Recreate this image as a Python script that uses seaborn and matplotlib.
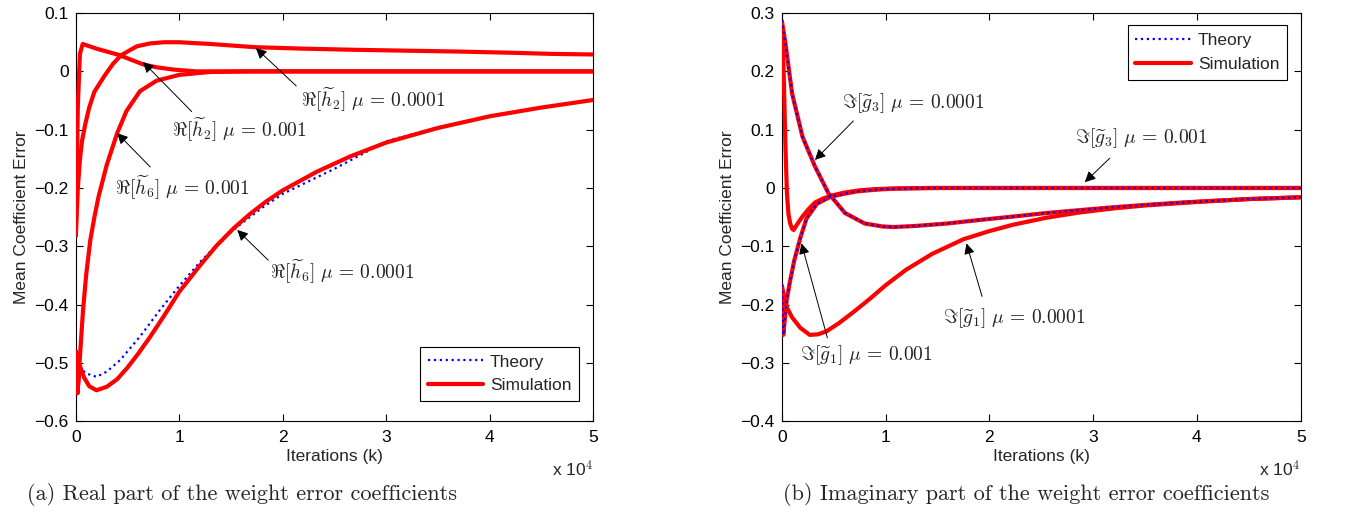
import matplotlib
matplotlib.use("Agg")
import matplotlib.pyplot as plt
from matplotlib.lines import Line2D
import seaborn as sns

# ---------------- data (x in units of 10^4 iterations) ----------------
# Left panel: real part
h2_fast_x = [0, 0.01, 0.02, 0.04, 0.067, 0.1, 0.2, 0.3, 0.42, 0.52, 0.65, 0.78, 0.95, 1.16, 1.4, 1.8, 2.5, 3.5, 5.0]
h2_fast_y = [-0.284, -0.17, -0.06, 0.03, 0.047, 0.045, 0.039, 0.034, 0.028, 0.021, 0.012, 0.007, 0.003, 0.0, 0.0, 0.0, 0.0, 0.0, 0.0]

h2_slow_x = [0, 0.02, 0.04, 0.06, 0.09, 0.13, 0.18, 0.28, 0.36, 0.44, 0.59, 0.72, 0.855, 1.0, 1.3, 1.73, 2.2, 2.7, 3.2, 3.7, 4.2, 4.6, 5.0]
h2_slow_y = [-0.284, -0.2, -0.152, -0.12, -0.092, -0.062, -0.035, -0.007, 0.013, 0.028, 0.043, 0.048, 0.050, 0.050, 0.047, 0.0415, 0.039, 0.037, 0.0355, 0.034, 0.032, 0.030, 0.029]

h6_fast_x = [0, 0.016, 0.04, 0.07, 0.1, 0.14, 0.18, 0.22, 0.3, 0.4, 0.49, 0.62, 0.78, 1.0, 1.3, 1.7, 2.5, 3.5, 5.0]
h6_fast_y = [-0.478, -0.552, -0.49, -0.41, -0.35, -0.29, -0.25, -0.215, -0.16, -0.106, -0.068, -0.034, -0.016, -0.006, -0.001, 0.0, 0.0, 0.0, 0.0]

h6_slow_x = [0, 0.016, 0.04, 0.08, 0.13, 0.2, 0.3, 0.4, 0.5, 0.6, 0.72, 0.85, 1.0, 1.2, 1.36, 1.52, 1.68, 1.84, 2.0, 2.33, 2.65, 3.0, 3.5, 4.0, 4.5, 5.0]
h6_slow_y = [-0.478, -0.552, -0.505, -0.525, -0.54, -0.547, -0.541, -0.528, -0.508, -0.485, -0.455, -0.42, -0.378, -0.333, -0.299, -0.27, -0.245, -0.223, -0.204, -0.172, -0.146, -0.122, -0.097, -0.077, -0.062, -0.049]

h6_slow_th_x = [0, 0.02, 0.05, 0.1, 0.2, 0.3, 0.43, 0.62, 0.81, 1.0, 1.2, 1.4, 1.6, 1.8, 2.0, 2.5, 3.0, 3.5, 4.0, 4.5, 5.0]
h6_slow_th_y = [-0.487, -0.5, -0.51, -0.518, -0.524, -0.515, -0.495, -0.455, -0.41, -0.368, -0.327, -0.291, -0.261, -0.234, -0.21, -0.167, -0.12, -0.096, -0.077, -0.062, -0.049]

# Right panel: imaginary part
g3_fast_x = [0, 0.01, 0.02, 0.035, 0.05, 0.065, 0.083, 0.1, 0.115, 0.15, 0.2, 0.26, 0.32, 0.4, 0.48, 0.6, 0.75, 0.9, 1.05, 1.4, 2.0, 3.0, 4.0, 5.0]
g3_fast_y = [0.288, 0.24, 0.19, 0.077, -0.009, -0.045, -0.062, -0.07, -0.072, -0.062, -0.049, -0.036, -0.025, -0.018, -0.013, -0.008, -0.004, -0.002, -0.001, 0.0, 0.0, 0.0, 0.0, 0.0]

g3_slow_x = [0, 0.035, 0.1, 0.2, 0.32, 0.45, 0.61, 0.8, 0.97, 1.08, 1.3, 1.59, 1.9, 2.23, 2.55, 2.87, 3.2, 3.51, 3.85, 4.16, 4.5, 5.0]
g3_slow_y = [0.288, 0.249, 0.162, 0.088, 0.037, -0.009, -0.043, -0.061, -0.066, -0.067, -0.065, -0.061, -0.055, -0.049, -0.043, -0.038, -0.033, -0.029, -0.025, -0.022, -0.019, -0.016]

g1_fast_x = [0, 0.015, 0.03, 0.048, 0.08, 0.12, 0.18, 0.24, 0.34, 0.47, 0.6, 0.72, 0.9, 1.1, 1.5, 2.0, 3.0, 4.0, 5.0]
g1_fast_y = [-0.166, -0.252, -0.225, -0.192, -0.16, -0.125, -0.085, -0.052, -0.027, -0.015, -0.01, -0.006, -0.003, -0.001, 0.0, 0.0, 0.0, 0.0, 0.0]

g1_slow_x = [0, 0.02, 0.05, 0.1, 0.18, 0.27, 0.35, 0.43, 0.55, 0.69, 0.85, 1.0, 1.2, 1.45, 1.75, 2.0, 2.23, 2.55, 2.87, 3.2, 3.5, 4.0, 4.5, 5.0]
g1_slow_y = [-0.166, -0.185, -0.205, -0.222, -0.24, -0.252, -0.251, -0.246, -0.232, -0.213, -0.19, -0.167, -0.14, -0.113, -0.088, -0.074, -0.063, -0.051, -0.042, -0.035, -0.03, -0.024, -0.019, -0.016]

x_ticks = [0, 1, 2, 3, 4, 5]
x_tick_labels = ["0", "1", "2", "3", "4", "5"]
left_y_ticks = [0.1, 0.0, -0.1, -0.2, -0.3, -0.4, -0.5, -0.6]
left_y_labels = ["0.1", "0", "\u22120.1", "\u22120.2", "\u22120.3", "\u22120.4", "\u22120.5", "\u22120.6"]
right_y_ticks = [0.3, 0.2, 0.1, 0.0, -0.1, -0.2, -0.3, -0.4]
right_y_labels = ["0.3", "0.2", "0.1", "0", "\u22120.1", "\u22120.2", "\u22120.3", "\u22120.4"]

# ---------------- style ----------------
sns.set_style("ticks")
plt.rcParams["font.family"] = ["Liberation Sans", "DejaVu Sans"]
plt.rcParams["mathtext.fontset"] = "cm"

RED = "#ff0000"
BLUE = "#0000ff"
SIM_LW = 3.0
TH_LW = 1.6

fig = plt.figure(figsize=(13.7, 5.13), dpi=100)
axL = fig.add_axes([0.0553, 0.179, 0.3778, 0.7955])
axR = fig.add_axes([0.5706, 0.179, 0.3788, 0.7955])


def sim(ax, x, y, z=3):
    sns.lineplot(x=x, y=y, ax=ax, color=RED, lw=SIM_LW, sort=False,
                 estimator=None, zorder=z, solid_capstyle="butt",
                 solid_joinstyle="round")


def theory(ax, x, y, z=2):
    sns.lineplot(x=x, y=y, ax=ax, color=BLUE, lw=TH_LW, linestyle=":",
                 sort=False, estimator=None, zorder=z)


# left
theory(axL, h2_fast_x, h2_fast_y)
theory(axL, h2_slow_x, h2_slow_y)
theory(axL, h6_fast_x, h6_fast_y)
theory(axL, h6_slow_th_x, h6_slow_th_y)
sim(axL, h2_fast_x, h2_fast_y)
sim(axL, h2_slow_x, h2_slow_y)
sim(axL, h6_fast_x, h6_fast_y)
sim(axL, h6_slow_x, h6_slow_y)

# right
sim(axR, g3_fast_x, g3_fast_y)
sim(axR, g3_slow_x, g3_slow_y)
sim(axR, g1_fast_x, g1_fast_y)
sim(axR, g1_slow_x, g1_slow_y)
theory(axR, g3_fast_x, g3_fast_y, z=2)
theory(axR, g1_slow_x, g1_slow_y, z=2)
theory(axR, g3_slow_x, g3_slow_y, z=4)
theory(axR, g1_fast_x, g1_fast_y, z=4)

TICK_FS = 12.5
for ax, yt, yl, ylim in [(axL, left_y_ticks, left_y_labels, (-0.6, 0.1)),
                         (axR, right_y_ticks, right_y_labels, (-0.4, 0.3))]:
    ax.set_xlim(0, 5)
    ax.set_ylim(*ylim)
    ax.set_xticks(x_ticks)
    ax.set_xticklabels(x_tick_labels)
    ax.set_yticks(yt)
    ax.set_yticklabels(yl)
    ax.tick_params(direction="in", top=True, right=True, length=5, width=0.8,
                   labelsize=TICK_FS, colors="black")
    ax.tick_params(axis="x", pad=6)
    ax.tick_params(axis="y", pad=5)
    for sp in ax.spines.values():
        sp.set_visible(True)
        sp.set_linewidth(0.8)
        sp.set_color("black")
    ax.set_xlabel("Iterations (k)", fontsize=TICK_FS, labelpad=3)
    ax.set_ylabel("Mean Coefficient Error", fontsize=TICK_FS, labelpad=4)
    ax.text(1.0, -0.118, r"x 10$^{4}$", transform=ax.transAxes, ha="right",
            va="center", fontsize=TICK_FS)
    handles = [Line2D([], [], color=BLUE, lw=TH_LW, linestyle=":"),
               Line2D([], [], color=RED, lw=SIM_LW)]
    ax.set_facecolor("white")

leg_kw = dict(fontsize=TICK_FS, frameon=True, fancybox=False, edgecolor="black",
              framealpha=1, handlelength=3.2, borderpad=0.45, labelspacing=0.5,
              handletextpad=0.4, borderaxespad=0)
lg = axL.legend(handles, ["Theory", "Simulation"], loc="lower right",
                bbox_to_anchor=(0.973, 0.049), **leg_kw)
lg.get_frame().set_linewidth(0.8)
lg = axR.legend(handles, ["Theory", "Simulation"], loc="upper right",
                bbox_to_anchor=(0.974, 0.971), **leg_kw)
lg.get_frame().set_linewidth(0.8)

ANN_FS = 14
arrow = dict(arrowstyle="-|>", color="black", lw=0.7, mutation_scale=16,
             shrinkA=0, shrinkB=0)

# left annotations: (text, text pos, tail, tip)
left_ann = [
    (r"$\Re[\widetilde{h}_2]\ \mu\,=\,0.0001$", (2.18, -0.049), (2.13, -0.025), (1.74, 0.04)),
    (r"$\Re[\widetilde{h}_2]\ \mu\,=\,0.001$", (0.93, -0.101), (1.12, -0.069), (0.65, 0.016)),
    (r"$\Re[\widetilde{h}_6]\ \mu\,=\,0.001$", (0.38, -0.2), (0.72, -0.164), (0.40, -0.106)),
    (r"$\Re[\widetilde{h}_6]\ \mu\,=\,0.0001$", (1.88, -0.344), (1.86, -0.324), (1.56, -0.272)),
]
right_ann = [
    (r"$\Im[\widetilde{g}_3]\ \mu\,=\,0.0001$", (0.58, 0.146), (0.69, 0.115), (0.32, 0.048)),
    (r"$\Im[\widetilde{g}_3]\ \mu\,=\,0.001$", (2.83, 0.086), (3.16, 0.051), (2.92, 0.010)),
    (r"$\Im[\widetilde{g}_1]\ \mu\,=\,0.001$", (0.18, -0.286), (0.44, -0.257), (0.19, -0.095)),
    (r"$\Im[\widetilde{g}_1]\ \mu\,=\,0.0001$", (1.55, -0.223), (1.93, -0.186), (1.78, -0.095)),
]
for ax, anns in [(axL, left_ann), (axR, right_ann)]:
    for txt, tpos, tail, tip in anns:
        ax.annotate("", xy=tip, xytext=tail, arrowprops=arrow, zorder=6)
        ax.text(tpos[0], tpos[1], txt, ha="left", va="center", fontsize=ANN_FS,
                color="#222222", zorder=6)

CAP_FS = 16
fig.text(0.177, 0.036, "(a) Real part of the weight error coefficients",
         family="cmr10", fontsize=CAP_FS, ha="center", va="center")
fig.text(0.749, 0.036, "(b) Imaginary part of the weight error coefficients",
         family="cmr10", fontsize=CAP_FS, ha="center", va="center")

fig.savefig("out.png", dpi=100, facecolor="white")
